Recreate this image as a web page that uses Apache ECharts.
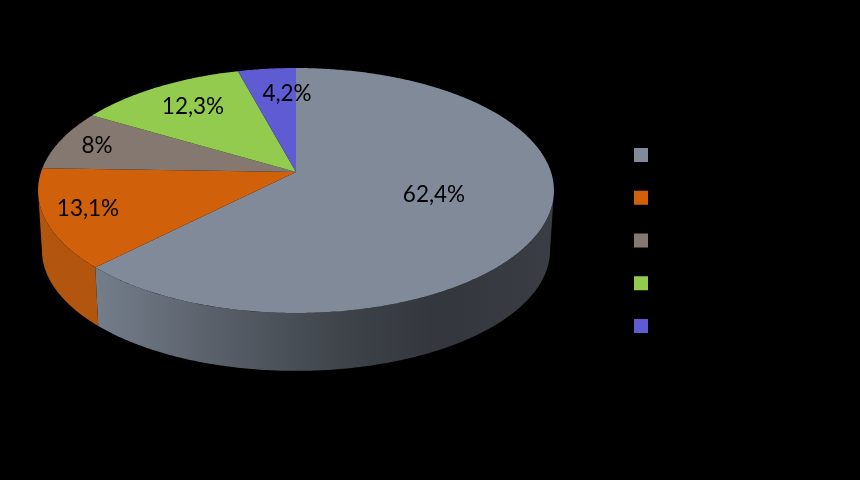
<!DOCTYPE html>
<html>
<head>
<meta charset="utf-8">
<style>html,body{margin:0;padding:0;background:#000}#c{width:860px;height:480px}</style>
<script src="https://cdn.jsdelivr.net/npm/echarts@6/dist/echarts.min.js"></script>
</head>
<body>
<div id="c"></div>
<script>
const values = [62.4, 13.1, 8, 12.3, 4.2];
const labels = ['62,4%', '13,1%', '8%', '12,3%', '4,2%'];
const topColors = ['#808a99', '#d0600a', '#857870', '#93cb4e', '#5f5cd3'];

// Layout of the tilted disc (perspective projection of a circle)
const cx = 296, cy = 172, rx = 255, ry = 119.7, k = 0.151;
const bottomScale = 0.985, bottomDrop = 60;
const labelAnchors = [[434, 195], [88, 209], [97, 146], [193, 107], [287, 94]];
const frontStart = Math.acos(-k), frontEnd = 2 * Math.PI - frontStart;

const total = values.reduce((a, b) => a + b, 0);
const startOf = i => values.slice(0, i).reduce((a, b) => a + b, 0) / total * 2 * Math.PI;

function project(t) {
  const u = Math.sin(t), v = -Math.cos(t), d = 1 - k * v;
  return [cx + rx * u / d, cy + ry * v / d];
}
function projectBottom(t) {
  const p = project(t);
  return [cx + (p[0] - cx) * bottomScale, cy + (p[1] - cy) * bottomScale + bottomDrop];
}
function arc(a, b, fn) {
  const n = Math.max(2, Math.ceil(Math.abs(b - a) / 0.01));
  const out = [];
  for (let j = 0; j <= n; j++) out.push(fn(a + (b - a) * j / n));
  return out;
}
const sideFills = [
  new echarts.graphic.LinearGradient(96, 0, 552, 0, [
    { offset: 0, color: '#747e8b' },
    { offset: 0.25, color: '#5a616b' },
    { offset: 0.55, color: '#3e4349' },
    { offset: 0.75, color: '#33373d' },
    { offset: 1, color: '#3a3d43' }
  ], true),
  '#b2550e', '#75695f', '#7fb042', '#5350b5'
];

function renderSlice(i) {
  const a = startOf(i), b = a + values[i] / total * 2 * Math.PI;
  const children = [];
  const sa = Math.max(a, frontStart), sb = Math.min(b, frontEnd);
  if (sb > sa) {
    children.push({
      type: 'polygon',
      shape: { points: arc(sa, sb, project).concat(arc(sb, sa, projectBottom)) },
      style: { fill: sideFills[i] }
    });
  }
  children.push({
    type: 'polygon',
    shape: { points: [[cx, cy]].concat(arc(a, b, project)) },
    style: { fill: topColors[i] }
  });
  children.push({
    type: 'text',
    x: labelAnchors[i][0], y: labelAnchors[i][1],
    style: {
      text: labels[i], fill: '#000', align: 'center', verticalAlign: 'middle',
      font: '22.5px Lato, "Open Sans", sans-serif'
    }
  });
  return { type: 'group', children };
}

const chart = echarts.init(document.getElementById('c'), null, { renderer: 'canvas' });
chart.setOption({
  animation: false,
  backgroundColor: '#000',
  legend: {
    orient: 'vertical', left: 634, top: 148,
    itemWidth: 14, itemHeight: 14, itemGap: 28.75, padding: 0,
    icon: 'rect', selectedMode: false,
    formatter: () => '',
    data: labels.map(String)
  },
  series: values.map((v, i) => ({
    type: 'custom',
    name: labels[i],
    coordinateSystem: 'none',
    silent: true,
    itemStyle: { color: topColors[i] },
    data: [v],
    renderItem: () => renderSlice(i)
  }))
});
</script>
</body>
</html>
